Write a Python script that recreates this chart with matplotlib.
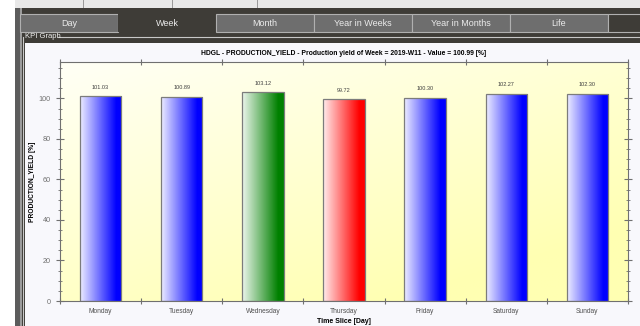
import numpy as np
import matplotlib
matplotlib.use("Agg")
import matplotlib.pyplot as plt
from matplotlib.patches import Rectangle
from matplotlib.colors import to_rgb

plt.rcParams["font.family"] = ["Liberation Sans", "DejaVu Sans"]

# KPI data: production yield per day of week 2019-W11
days = ["Monday", "Tuesday", "Wednesday", "Thursday", "Friday", "Saturday", "Sunday"]
yields = [101.03, 100.89, 103.12, 99.72, 100.30, 102.27, 102.30]
bar_colors = ["#0000ff", "#0000ff", "#008000", "#ff0000", "#0000ff", "#0000ff", "#0000ff"]
tabs = ["Day", "Week", "Month", "Year in Weeks", "Year in Months", "Life"]
selected_tab = "Week"

W, H = 640, 326
fig = plt.figure(figsize=(W / 100, H / 100), dpi=100)
fig.patch.set_facecolor("white")


def px(x, y, w, h):
    # screen pixel box (top-left origin) -> figure fraction
    return (x / W, 1 - (y + h) / H, w / W, h / H)


def box(x, y, w, h, fc, ec="none", lw=0, z=0):
    l, b, ww, hh = px(x, y, w, h)
    fig.add_artist(Rectangle((l, b), ww, hh, transform=fig.transFigure,
                             facecolor=fc, edgecolor=ec, linewidth=lw, zorder=z))


# window chrome
box(15, 0, 625, 8, "#e8e8e8")
for sx in [83, 172, 257]:
    box(sx, 0, 1, 8, "#9a9a9a", z=1)
box(15, 8, 625, 35, "#3e3c37")
box(15, 8, 5, 318, "#5c5c5c")
box(20, 8, 2, 318, "#9c9c9c")
box(22, 36, 3, 290, "#3e3c37")
box(25, 43, 615, 283, "#f8f8fc")

tab_w = 98
for i, name in enumerate(tabs):
    x0 = 20 + i * tab_w
    if name == selected_tab:
        box(x0, 13, tab_w, 19, "#3e3c37", z=2)
    else:
        box(x0, 14, tab_w, 18, "#6e6e6e", ec="#b0b0b0", lw=0.8, z=2)
    fig.text((x0 + tab_w / 2) / W, 1 - 23 / H, name, ha="center", va="center",
             fontsize=6.5, color="#ececec", zorder=3)
box(20 + len(tabs) * tab_w, 14, 40, 18, "#3e3c37", ec="#b0b0b0", lw=0.8, z=2)

fig.add_artist(plt.Line2D([23 / W, 23 / W], [1 - 37 / H, 0], transform=fig.transFigure,
                          color="#c8c8c8", lw=0.8, zorder=2))
fig.add_artist(plt.Line2D([58 / W, 1], [1 - 37 / H, 1 - 37 / H], transform=fig.transFigure,
                          color="#c8c8c8", lw=0.8, zorder=2))
fig.text(25 / W, 1 - 37 / H, "KPI Graph", ha="left", va="center",
         fontsize=5.5, color="#f0f0f0", zorder=3)

# chart area
ax = fig.add_axes(px(60, 62, 568, 239))
ax.set_zorder(5)
x = np.arange(len(days))
ax.set_xlim(-0.5, len(days) - 0.5)
ax.set_ylim(0, 118)

# yellow background gradient, paler toward the top left
gx, gy = np.meshgrid(np.linspace(0, 1, 200), np.linspace(0, 1, 120))
t = np.clip(0.5 * gx + 0.7 * gy, 0, 1)
c0 = np.array(to_rgb("#fffff6"))
c1 = np.array(to_rgb("#ffffb2"))
bg = c0 + (c1 - c0) * t[..., None]
ax.imshow(bg, extent=(-0.5, len(days) - 0.5, 0, 118), origin="upper",
          aspect="auto", zorder=0)

bars = ax.bar(x, yields, width=0.51, facecolor="none", edgecolor="#7c7c7c",
              linewidth=0.9, zorder=3)
ramp = np.linspace(0, 1, 100)
for rect, col, val in zip(bars, bar_colors, yields):
    c = np.array(to_rgb(col))
    start = 0.93 + 0.07 * c
    shade = np.clip(start + (c - start) * np.clip(ramp * 1.15, 0, 1)[:, None], 0, 1)
    im = ax.imshow(shade[None, :, :], extent=(rect.get_x(), rect.get_x() + rect.get_width(), 0, val),
                   aspect="auto", zorder=2)
    im.set_clip_path(rect)
    ax.text(rect.get_x() + rect.get_width() / 2, val + 3.2, f"{val:.2f}", ha="center",
            va="bottom", fontsize=4, color="#404040")

ax.set_xticks(x)
ax.set_xticklabels(days)
ax.set_xticks(np.arange(-0.5, len(days)), minor=True)
ax.tick_params(axis="x", which="major", length=0, labelsize=4.8, labelcolor="#505050", pad=5)
ax.tick_params(axis="x", which="minor", direction="inout", length=5, top=True,
               color="#707070", width=0.8)
ax.set_yticks(np.arange(0, 101, 20))
ax.set_yticks(np.arange(0, 118, 5), minor=True)
ax.tick_params(axis="y", which="major", direction="inout", length=6, right=True,
               labelsize=5.2, labelcolor="#707070", color="#707070", width=0.8)
ax.tick_params(axis="y", which="minor", direction="inout", length=3, right=True,
               color="#707070", width=0.6)
for sp in ax.spines.values():
    sp.set_color("#707070")
    sp.set_linewidth(0.8)

ax.set_xlabel("Time Slice [Day]", fontsize=5, fontweight="bold", labelpad=2)
ax.set_ylabel("PRODUCTION_YIELD [%]", fontsize=4.8, fontweight="bold", labelpad=2)
ax.set_title("HDGL - PRODUCTION_YIELD - Production yield of Week = 2019-W11 - Value = 100.99 [%]",
             fontsize=4.9, fontweight="bold", pad=5)

fig.savefig("out.png", dpi=100)
